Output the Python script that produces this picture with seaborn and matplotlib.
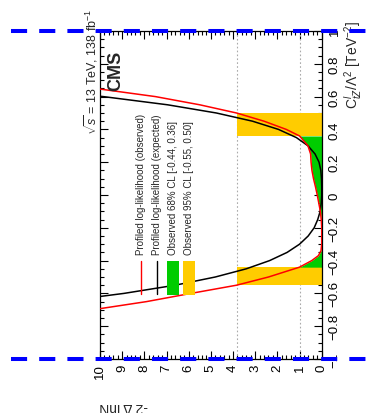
import matplotlib
matplotlib.use('Agg')
import matplotlib.pyplot as plt
import seaborn as sns
import numpy as np
from matplotlib.lines import Line2D
from matplotlib.patches import Rectangle
from matplotlib.ticker import MultipleLocator

# ---------------- data ----------------
c_exp = [-0.70, -0.65, -0.60, -0.55, -0.50, -0.45, -0.40, -0.35, -0.30, -0.25, -0.20,
         -0.15, -0.10, -0.05, 0.00, 0.05, 0.10, 0.15, 0.20, 0.25, 0.30, 0.35, 0.40,
         0.45, 0.50, 0.55, 0.60, 0.65]
nll_exp = [15.4, 11.8, 8.92, 6.61, 4.80, 3.40, 2.35, 1.56, 1.00, 0.61, 0.34,
           0.18, 0.07, 0.02, 0.00, 0.00, 0.01, 0.04, 0.12, 0.30, 0.62, 1.14, 1.95,
           3.12, 4.75, 6.95, 9.85, 13.6]

c_obs = [-0.72, -0.693, -0.65, -0.60, -0.55, -0.50, -0.44, -0.40, -0.37, -0.34, -0.30,
         -0.25, -0.20, -0.15, -0.10, -0.05, 0.00, 0.05, 0.10, 0.15, 0.20, 0.25, 0.30,
         0.36, 0.40, 0.45, 0.50, 0.55, 0.60, 0.646, 0.68]
nll_obs = [11.5, 10.0, 7.9, 5.9, 3.84, 2.4, 1.0, 0.45, 0.15, 0.03, 0.0,
           0.0, 0.0, 0.02, 0.06, 0.13, 0.20, 0.28, 0.37, 0.44, 0.48, 0.50, 0.62,
           1.0, 1.6, 2.6, 3.84, 5.5, 7.5, 10.0, 12.0]

cl68 = [-0.44, 0.36]
cl95 = [-0.55, 0.50]
thresholds = [1.0, 3.84]

legend_labels = ["Profiled log-likelihood (observed)",
                 "Profiled log-likelihood (expected)",
                 "Observed 68% CL [-0.44, 0.36]",
                 "Observed 95% CL [-0.55, 0.50]"]

c_ticks = [-1.0, -0.8, -0.6, -0.4, -0.2, 0.0, 0.2, 0.4, 0.6, 0.8, 1.0]
nll_ticks = list(range(0, 11))

# ---------------- style ----------------
sns.set_theme(style='white')
plt.rcParams['font.family'] = ['Liberation Sans', 'DejaVu Sans']
plt.rcParams['mathtext.fontset'] = 'custom'
plt.rcParams['mathtext.rm'] = 'Liberation Sans'
plt.rcParams['mathtext.it'] = 'Liberation Sans:italic'
plt.rcParams['mathtext.bf'] = 'Liberation Sans:bold'
plt.rcParams['axes.unicode_minus'] = True

RED = '#ff0000'
GREEN = '#00cc00'
YELLOW = '#ffcc00'
BLUE = '#0000ff'

W, H = 366, 414
def fx(px):
    return px / W
def fy(py):
    return 1 - py / H

fig = plt.figure(figsize=(W / 100, H / 100), dpi=100)
fig.patch.set_facecolor('white')
ax = fig.add_axes([fx(100), fy(360), (321.7 - 100) / W, (360 - 32) / H])
ax.set_facecolor('white')

# threshold lines
for t in thresholds:
    ax.axvline(t, color='#aaaaaa', lw=0.8, ls=(0, (1.5, 2)), zorder=1)

# 95% CL bands (boxes up to the 95% threshold)
ax.fill_betweenx([cl95[0], cl68[0]], 0, thresholds[1], color=YELLOW, lw=0, zorder=2)
ax.fill_betweenx([cl68[1], cl95[1]], 0, thresholds[1], color=YELLOW, lw=0, zorder=2)

# 68% CL band: area under the observed curve
c_o = np.array(c_obs)
n_o = np.array(nll_obs)
eps = 1e-9
m68 = (c_o >= cl68[0] - eps) & (c_o <= cl68[1] + eps)
ax.fill_betweenx(c_o[m68], 0, n_o[m68], color=GREEN, lw=0, zorder=2)

# curves
sns.lineplot(x=nll_exp, y=c_exp, sort=False, estimator=None, color='black', lw=1.1, ax=ax, zorder=3)
sns.lineplot(x=nll_obs, y=c_obs, sort=False, estimator=None, color=RED, lw=1.1, ax=ax, zorder=4)

ax.set_xlim(10, 0)
ax.set_ylim(-1, 1)
ax.set_xlabel('')
ax.set_ylabel('')

ax.yaxis.tick_right()
ax.set_yticks(c_ticks)
ax.set_yticklabels([('%g' % v).replace('-', '\u2212') for v in c_ticks])
ax.yaxis.set_minor_locator(MultipleLocator(0.05))
ax.set_xticks(nll_ticks)
ax.set_xticklabels([str(v) for v in nll_ticks])
ax.xaxis.set_minor_locator(MultipleLocator(0.2))
ax.tick_params(which='both', direction='in', left=True, right=True, top=True, bottom=True,
               labelleft=False, labelright=True, labelbottom=True, labeltop=False,
               colors='black', width=0.8)
ax.tick_params(which='major', length=6)
ax.tick_params(which='minor', length=3)
ax.tick_params(axis='y', labelsize=9.5, pad=5, labelrotation=90)
ax.tick_params(axis='x', labelsize=9.5, pad=3, labelrotation=90)
for lab in ax.get_yticklabels():
    lab.set_va('center')
for sp in ax.spines.values():
    sp.set_color('black')
    sp.set_linewidth(0.9)

# texts
fig.text(fx(116), fy(71), 'CMS', rotation=90, fontsize=13, weight='bold', ha='center', va='center')
fig.text(fx(91), fy(72), r'$\sqrt{s}$ = 13 TeV, 138 fb$^{-1}$', rotation=90, fontsize=9,
         ha='center', va='center')
fig.text(fx(353), fy(65), r'C$^{l}_{tZ}$/$\Lambda^{2}$ [TeV$^{-2}$]', rotation=90, fontsize=10,
         ha='center', va='center')
fig.text(fx(124), fy(407), '-2 \u0394 lnN', rotation=180, fontsize=10, ha='center', va='center')

# legend
leg_x = [141, 157, 173.5, 189.5]
for xx, lab in zip(leg_x, legend_labels):
    fig.text(fx(xx), fy(255), lab, rotation=90, rotation_mode='anchor', ha='left', va='center',
             fontsize=7)
fig.add_artist(Line2D([fx(140.7)] * 2, [fy(262), fy(295)], color=RED, lw=1.0))
fig.add_artist(Line2D([fx(156.7)] * 2, [fy(262), fy(295)], color='black', lw=1.0))
fig.add_artist(Rectangle((fx(167), fy(296)), (179 - 167) / W, (296 - 262) / H, color=GREEN, lw=0,
                         transform=fig.transFigure))
fig.add_artist(Rectangle((fx(183), fy(296)), (195 - 183) / W, (296 - 262) / H, color=YELLOW, lw=0,
                         transform=fig.transFigure))

# blue dashed guide lines
for py in (32, 360):
    fig.add_artist(Line2D([fx(11), 1.05], [fy(py)] * 2, color=BLUE, lw=2.9, dashes=(4, 3),
                          dash_capstyle='butt', zorder=10))

fig.savefig('out.png', dpi=100)
